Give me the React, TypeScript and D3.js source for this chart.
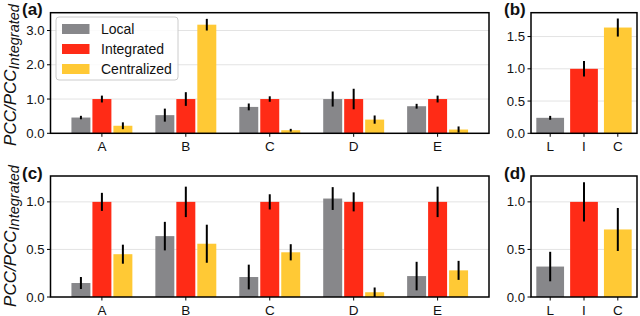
import React from "react";
import * as d3 from "d3";

// ---- data ----
const groups = ["A", "B", "C", "D", "E"];
const seriesNames = ["Local", "Integrated", "Centralized"];
const shortNames = ["L", "I", "C"];

// panel (a)
const aLocal = [0.46, 0.53, 0.77, 1.0, 0.79];
const aLocalErr = [0.05, 0.19, 0.1, 0.22, 0.07];
const aIntegrated = [1.0, 1.0, 1.0, 1.0, 1.0];
const aIntegratedErr = [0.1, 0.2, 0.08, 0.3, 0.1];
const aCentralized = [0.22, 3.17, 0.09, 0.4, 0.11];
const aCentralizedErr = [0.1, 0.17, 0.04, 0.12, 0.09];

// panel (b)
const bValues = [0.24, 1.0, 1.64];
const bErr = [0.03, 0.12, 0.14];

// panel (c)
const cLocal = [0.147, 0.64, 0.21, 1.035, 0.22];
const cLocalErr = [0.063, 0.15, 0.13, 0.12, 0.15];
const cIntegrated = [1.0, 1.0, 1.0, 1.0, 1.0];
const cIntegratedErr = [0.095, 0.16, 0.08, 0.1, 0.16];
const cCentralized = [0.45, 0.56, 0.47, 0.05, 0.28];
const cCentralizedErr = [0.1, 0.2, 0.085, 0.05, 0.1];

// panel (d)
const dValues = [0.32, 1.0, 0.71];
const dErr = [0.155, 0.205, 0.226];

const aTicks = [0, 1, 2, 3];
const bTicks = [0, 0.5, 1, 1.5];
const cTicks = [0, 0.5, 1];
const dTicks = [0, 0.5, 1];

const COLORS = ["#87878a", "#ff2b16", "#ffc935"];
const FONT = "'Liberation Sans', Arial, sans-serif";

type Bar = { x: number; w: number; v: number; e: number; color: string; inset: number };

function Panel(props: {
  left: number; right: number; top: number; bottom: number;
  xDomain: [number, number]; yMax: number; yTicks: number[];
  bars: Bar[]; xTicks: { x: number; label: string }[];
  label: string; labelX: number;
}) {
  const { left, right, top, bottom, xDomain, yMax, yTicks, bars, xTicks, label, labelX } = props;
  const x = d3.scaleLinear().domain(xDomain).range([left, right]);
  const y = d3.scaleLinear().domain([0, yMax]).range([bottom, top]);
  const fmt = d3.format(".1f");
  return (
    <g>
      {yTicks.filter((t) => t > 0).map((t) => (
        <line key={"g" + t} x1={left} x2={right} y1={y(t)} y2={y(t)} stroke="#e3e3e3" strokeWidth={1} />
      ))}
      {bars.map((b, i) => {
        const x0 = x(b.x - b.w / 2) + b.inset;
        const x1 = x(b.x + b.w / 2) - b.inset;
        return (
          <rect key={"b" + i} x={x0} y={y(b.v)} width={x1 - x0} height={bottom - y(b.v)}
            fill={b.color} />
        );
      })}
      {bars.map((b, i) => (
        <line key={"e" + i} x1={x(b.x)} x2={x(b.x)} y1={y(Math.max(0, b.v - b.e))} y2={y(b.v + b.e)}
          stroke="#000" strokeWidth={2} />
      ))}
      <rect x={left} y={top} width={right - left} height={bottom - top} fill="none" stroke="#000" strokeWidth={1.5} />
      {yTicks.map((t) => (
        <g key={"t" + t}>
          <line x1={left - 3.5} x2={left} y1={y(t)} y2={y(t)} stroke="#000" strokeWidth={1} />
          <text x={left - 6} y={y(t)} dy="0.35em" textAnchor="end" fontSize={13.2} fontFamily={FONT} fill="#111">{fmt(t)}</text>
        </g>
      ))}
      {xTicks.map((t) => (
        <g key={"x" + t.label}>
          <line x1={x(t.x)} x2={x(t.x)} y1={bottom} y2={bottom + 3.5} stroke="#000" strokeWidth={1} />
          <text x={x(t.x)} y={bottom + 17.5} textAnchor="middle" fontSize={13.5} fontFamily={FONT} fill="#111">{t.label}</text>
        </g>
      ))}
      <text x={labelX} y={top + 2.5} fontSize={17} fontWeight="bold" fontFamily={FONT} fill="#111">{label}</text>
    </g>
  );
}

function groupBars(series: number[][], errs: number[][]): Bar[] {
  const out: Bar[] = [];
  groups.forEach((_, gi) => {
    series.forEach((s, si) => {
      out.push({ x: gi + (si - 1) * 0.25, w: 0.25, v: s[gi], e: errs[si][gi], color: COLORS[si], inset: 1 });
    });
  });
  return out;
}

function singleBars(values: number[], errs: number[]): Bar[] {
  return values.map((v, i) => ({ x: i, w: 0.85, v, e: errs[i], color: COLORS[i], inset: 0.5 }));
}

function YLabel({ cx, cy }: { cx: number; cy: number }) {
  return (
    <text transform={`translate(${cx},${cy}) rotate(-90)`} textAnchor="middle" fontFamily={FONT}
      fontStyle="italic" fontSize={17} fill="#111">
      PCC/PCC<tspan fontSize={14.5} dy={3}>Integrated</tspan>
    </text>
  );
}

export default function App() {
  const groupTicks = groups.map((g, i) => ({ x: i, label: g }));
  const shortTicks = shortNames.map((g, i) => ({ x: i, label: g }));
  const gDomain: [number, number] = [-0.6125, 4.6125];
  const sDomain: [number, number] = [-0.5675, 2.5675];
  return (
    <svg width={640} height={316} style={{ position: "absolute", left: 0, top: 0 }}>
      <rect width={640} height={316} fill="#fff" />
      <Panel left={50.5} right={489} top={12.7} bottom={133.3} xDomain={gDomain} yMax={3.52} yTicks={aTicks}
        bars={groupBars([aLocal, aIntegrated, aCentralized], [aLocalErr, aIntegratedErr, aCentralizedErr])}
        xTicks={groupTicks} label="(a)" labelX={22} />
      <Panel left={531} right={637} top={12.7} bottom={133.3} xDomain={sDomain} yMax={1.87} yTicks={bTicks}
        bars={singleBars(bValues, bErr)} xTicks={shortTicks} label="(b)" labelX={504} />
      <Panel left={50.5} right={489} top={176} bottom={297} xDomain={gDomain} yMax={1.272} yTicks={cTicks}
        bars={groupBars([cLocal, cIntegrated, cCentralized], [cLocalErr, cIntegratedErr, cCentralizedErr])}
        xTicks={groupTicks} label="(c)" labelX={22} />
      <Panel left={531} right={637} top={176} bottom={297} xDomain={sDomain} yMax={1.272} yTicks={dTicks}
        bars={singleBars(dValues, dErr)} xTicks={shortTicks} label="(d)" labelX={504} />
      {/* legend */}
      <g>
        <rect x={56} y={17} width={122} height={63} rx={3} fill="#fff" fillOpacity={0.85} stroke="#cccccc" strokeWidth={1} />
        {seriesNames.map((n, i) => (
          <g key={n}>
            <rect x={62} y={24 + i * 20} width={27.5} height={10} fill={COLORS[i]} />
            <text x={101} y={29 + i * 20} dy="0.36em" fontSize={14} fontFamily={FONT} fill="#111">{n}</text>
          </g>
        ))}
      </g>
      <YLabel cx={16} cy={75} />
      <YLabel cx={16} cy={236} />
    </svg>
  );
}
